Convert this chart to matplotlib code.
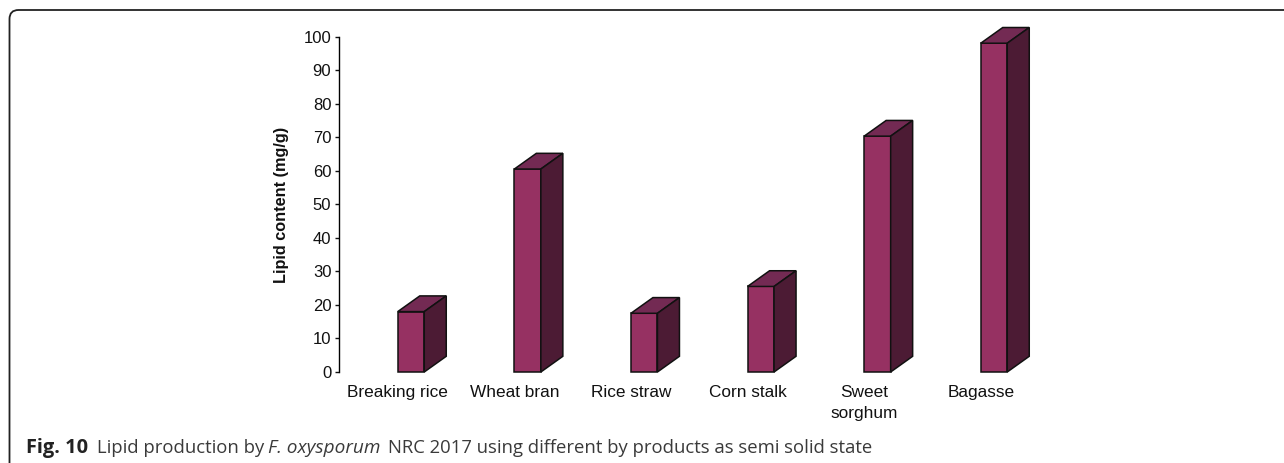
import matplotlib
matplotlib.use('Agg')
import matplotlib.pyplot as plt
from matplotlib.patches import Polygon, FancyBboxPatch

categories = ["Breaking rice", "Wheat bran", "Rice straw", "Corn stalk", "Sweet\nsorghum", "Bagasse"]
lipid = [18, 60.5, 17.5, 25.5, 70.3, 98]
y_ticks = [0, 10, 20, 30, 40, 50, 60, 70, 80, 90, 100]

W, H = 1284, 463
front_col = '#963162'
top_col = '#732a53'
side_col = '#4c1b34'
bar_w = 26.5 / 116.6
dep_x = 22 / 116.6
dep_y = 15.7 / 3.355

plt.rcParams['font.family'] = ['Liberation Sans', 'DejaVu Sans']
fig = plt.figure(figsize=(W / 100, H / 100), dpi=100)

# frame round the figure, runs off the right and bottom edges
bg = fig.add_axes([0, 0, 1, 1])
bg.set_xlim(0, W)
bg.set_ylim(H, 0)
bg.axis('off')
bg.add_patch(FancyBboxPatch((9.5, 10), W + 30, H + 30, boxstyle='round,pad=0,rounding_size=9',
                            fc='white', ec='#222222', lw=1.3))

ax = fig.add_axes([339 / W, (H - 372) / H, (1100 - 339) / W, 335.5 / H])
ax.patch.set_alpha(0)
ax.set_xlim((339 - 411) / 116.6, (1100 - 411) / 116.6)
ax.set_ylim(0, 100)

x = list(range(len(categories)))
ax.bar(x, lipid, width=bar_w, color=front_col, edgecolor='#111111', linewidth=1.1, zorder=3, clip_on=False)
for i, v in zip(x, lipid):
    l, r = i - bar_w / 2, i + bar_w / 2
    ax.add_patch(Polygon([(l, v), (r, v), (r + dep_x, v + dep_y), (l + dep_x, v + dep_y)],
                         fc=top_col, ec='#111111', lw=1.1, zorder=3, clip_on=False))
    ax.add_patch(Polygon([(r, 0), (r + dep_x, dep_y), (r + dep_x, v + dep_y), (r, v)],
                         fc=side_col, ec='#111111', lw=1.1, zorder=3, clip_on=False))

for s in ['top', 'right', 'bottom']:
    ax.spines[s].set_visible(False)
ax.spines['left'].set_linewidth(1)
ax.set_yticks(y_ticks)
ax.tick_params(axis='y', labelsize=12, length=3, width=1, pad=2.5, colors='#111111')
ax.set_xticks(x)
ax.set_xticklabels([])
ax.tick_params(axis='x', length=0)
for i, c in zip(x, categories):
    ax.annotate(c, (i, 0), xytext=(-9.5, -9.5), textcoords='offset points', ha='center', va='top',
                fontsize=12.4, color='#111111', linespacing=1.5)
bg.text(281.5, 205, 'Lipid content (mg/g)', rotation=90, ha='center', va='center',
        fontsize=11.7, fontweight='bold', color='#111111')

# caption
cap_y = 453
bg.text(26, cap_y, 'Fig. 10', fontsize=14.4, fontweight='bold', family=['Open Sans'], color='#222222', va='baseline')
bg.text(97, cap_y, 'Lipid production by', fontsize=13.3, family=['Open Sans'], color='#3a3a3a', va='baseline')
bg.text(268, cap_y, 'F. oxysporum', fontsize=13.7, style='italic', family=['Open Sans'], color='#3a3a3a', va='baseline')
bg.text(388, cap_y, 'NRC 2017 using different by products as semi solid state', fontsize=13.3,
        family=['Open Sans'], color='#3a3a3a', va='baseline')

fig.savefig('out.png', dpi=100)
